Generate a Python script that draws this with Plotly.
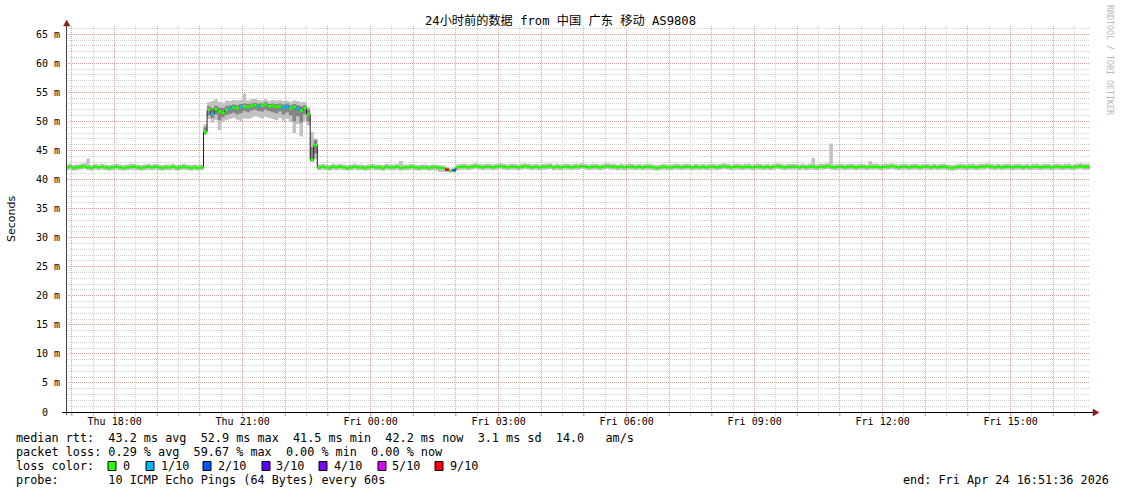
import plotly.graph_objects as go
import pandas as pd

# ---------------- data ----------------
range_start = "2026-04-23 16:51:36"
range_end = "2026-04-24 16:51:36"
first_sample = "2026-04-23 16:50:00"
sample_step = "5min"

# median RTT (ms), one value per 5-minute step, one row per hour
median_rtt = [
    42.1, 42.2, 42.0, 42.1, 42.2, 42.3, 42.1, 42.0, 42.2, 42.1, 42.2, 42.1,
    42.0, 42.1, 42.2, 42.1, 42.0, 42.1, 42.2, 42.2, 42.1, 42.0, 42.1, 42.2,
    42.1, 42.2, 42.1, 42.0, 42.1, 42.1, 42.2, 42.0, 42.1, 42.2, 42.1, 42.0,
    42.1, 42.0, 42.1, 48.2, 52.0, 51.3, 52.1, 51.7, 51.5, 52.0, 52.2, 52.4,
    52.3, 52.5, 52.6, 52.5, 52.7, 52.8, 52.6, 52.7, 52.9, 52.6, 52.7, 52.5,
    52.6, 52.4, 52.6, 52.3, 52.5, 52.2, 51.9, 52.3, 51.2, 43.4, 45.9, 42.1,
    42.2, 42.1, 42.0, 42.2, 42.1, 42.2, 42.1, 42.0, 42.1, 42.2, 42.1, 42.1,
    42.0, 42.1, 42.2, 42.1, 42.1, 42.0, 42.2, 42.1, 42.1, 42.2, 42.0, 42.1,
    42.1, 42.2, 42.1, 42.0, 42.1, 42.1, 42.0, 42.1, 42.1, 42.0, 42.0, 41.7,
    41.5, 41.6, 42.1, 42.2, 42.2, 42.1, 42.2, 42.3, 42.2, 42.1, 42.2, 42.2,
    42.1, 42.2, 42.3, 42.2, 42.1, 42.2, 42.2, 42.1, 42.2, 42.3, 42.2, 42.1,
    42.2, 42.1, 42.2, 42.2, 42.3, 42.1, 42.2, 42.1, 42.2, 42.2, 42.1, 42.2,
    42.2, 42.3, 42.2, 42.1, 42.2, 42.2, 42.1, 42.2, 42.3, 42.2, 42.2, 42.1,
    42.2, 42.1, 42.2, 42.2, 42.1, 42.2, 42.1, 42.2, 42.2, 42.1, 42.0, 42.1,
    42.2, 42.1, 42.1, 42.2, 42.2, 42.1, 42.2, 42.2, 42.1, 42.2, 42.1, 42.2,
    42.1, 42.2, 42.2, 42.1, 42.2, 42.3, 42.2, 42.1, 42.2, 42.2, 42.1, 42.2,
    42.2, 42.1, 42.2, 42.2, 42.1, 42.2, 42.1, 42.2, 42.3, 42.2, 42.1, 42.2,
    42.2, 42.2, 42.1, 42.2, 42.1, 42.2, 42.2, 42.1, 42.2, 42.2, 42.3, 42.2,
    42.1, 42.2, 42.2, 42.1, 42.2, 42.2, 42.1, 42.2, 42.2, 42.1, 42.2, 42.2,
    42.2, 42.1, 42.2, 42.2, 42.3, 42.2, 42.1, 42.2, 42.2, 42.1, 42.2, 42.2,
    42.1, 42.2, 42.2, 42.1, 42.2, 42.1, 42.2, 42.2, 42.1, 42.0, 42.1, 42.2,
    42.2, 42.1, 42.2, 42.2, 42.1, 42.2, 42.2, 42.3, 42.2, 42.1, 42.2, 42.1,
    42.2, 42.2, 42.1, 42.2, 42.2, 42.1, 42.2, 42.1, 42.2, 42.2, 42.1, 42.2,
    42.2, 42.1, 42.2, 42.2, 42.1, 42.2, 42.2, 42.1, 42.2, 42.3, 42.2, 42.2,
    42.2,
]

# lowest ping of each step (outer smoke)
smoke_lo = [
    41.6, 41.7, 41.5, 41.6, 41.7, 41.8, 41.6, 41.5, 41.7, 41.6, 41.7, 41.6,
    41.5, 41.6, 41.7, 41.6, 41.5, 41.6, 41.7, 41.7, 41.6, 41.5, 41.6, 41.7,
    41.6, 41.7, 41.6, 41.5, 41.6, 41.6, 41.7, 41.5, 41.6, 41.7, 41.6, 41.5,
    41.6, 41.5, 41.6, 47.6, 50.4, 49.8, 50.3, 48.5, 49.9, 50.2, 50.4, 50.6,
    50.3, 50.1, 50.5, 50.4, 50.6, 50.9, 50.7, 50.5, 50.8, 50.6, 50.4, 50.2,
    50.6, 50.1, 50.4, 49.9, 48.0, 49.5, 47.4, 50.0, 49.3, 43.0, 43.5, 41.6,
    41.7, 41.6, 41.5, 41.7, 41.6, 41.7, 41.6, 41.5, 41.6, 41.7, 41.6, 41.6,
    41.5, 41.6, 41.7, 41.6, 41.6, 41.5, 41.7, 41.6, 41.6, 41.7, 41.5, 41.6,
    41.6, 41.7, 41.6, 41.5, 41.6, 41.6, 41.5, 41.6, 41.5, 41.3, 41.3, 41.3,
    41.2, 41.3, 41.6, 41.7, 41.7, 41.6, 41.7, 41.8, 41.7, 41.6, 41.7, 41.7,
    41.6, 41.7, 41.8, 41.7, 41.6, 41.7, 41.7, 41.6, 41.7, 41.8, 41.7, 41.6,
    41.7, 41.6, 41.7, 41.7, 41.8, 41.6, 41.7, 41.6, 41.7, 41.7, 41.6, 41.7,
    41.7, 41.8, 41.7, 41.6, 41.7, 41.7, 41.6, 41.7, 41.8, 41.7, 41.7, 41.6,
    41.7, 41.6, 41.7, 41.7, 41.6, 41.7, 41.6, 41.7, 41.7, 41.6, 41.5, 41.6,
    41.7, 41.6, 41.6, 41.7, 41.7, 41.6, 41.7, 41.7, 41.6, 41.7, 41.6, 41.7,
    41.6, 41.7, 41.7, 41.6, 41.7, 41.8, 41.7, 41.6, 41.7, 41.7, 41.6, 41.7,
    41.7, 41.6, 41.7, 41.7, 41.6, 41.7, 41.6, 41.7, 41.8, 41.7, 41.6, 41.7,
    41.7, 41.7, 41.6, 41.7, 41.6, 41.7, 41.7, 41.6, 41.7, 41.7, 41.8, 41.7,
    41.6, 41.7, 41.7, 41.6, 41.7, 41.7, 41.6, 41.7, 41.7, 41.6, 41.7, 41.7,
    41.7, 41.6, 41.7, 41.7, 41.8, 41.7, 41.6, 41.7, 41.7, 41.6, 41.7, 41.7,
    41.6, 41.7, 41.7, 41.6, 41.7, 41.6, 41.7, 41.7, 41.6, 41.5, 41.6, 41.7,
    41.7, 41.6, 41.7, 41.7, 41.6, 41.7, 41.7, 41.8, 41.7, 41.6, 41.7, 41.6,
    41.7, 41.7, 41.6, 41.7, 41.7, 41.6, 41.7, 41.6, 41.7, 41.7, 41.6, 41.7,
    41.7, 41.6, 41.7, 41.7, 41.6, 41.7, 41.7, 41.6, 41.7, 41.8, 41.7, 41.7,
    41.7,
]

# highest ping of each step (outer smoke)
smoke_hi = [
    42.6, 42.7, 42.5, 42.6, 42.7, 42.8, 43.6, 42.5, 42.7, 42.6, 42.7, 42.6,
    42.5, 42.6, 42.7, 42.6, 42.5, 42.6, 42.7, 42.7, 42.6, 42.5, 42.6, 42.7,
    42.6, 42.7, 42.6, 42.5, 42.6, 42.6, 42.7, 42.5, 42.6, 42.7, 42.6, 42.5,
    42.6, 42.5, 42.6, 49.5, 53.3, 53.5, 53.8, 53.4, 53.2, 53.6, 53.5, 53.7,
    53.6, 53.7, 54.8, 53.6, 53.8, 53.9, 53.7, 53.6, 53.8, 53.5, 53.7, 53.6,
    53.7, 53.5, 53.6, 53.4, 53.6, 53.5, 53.3, 53.4, 52.5, 48.2, 47.0, 42.6,
    42.7, 42.6, 42.5, 42.7, 42.6, 42.7, 42.6, 42.5, 42.6, 42.7, 42.6, 42.6,
    42.5, 42.6, 42.7, 42.6, 42.6, 42.5, 42.7, 42.6, 42.6, 42.7, 43.2, 42.6,
    42.6, 42.7, 42.6, 42.5, 42.6, 42.6, 42.5, 42.6, 42.6, 42.5, 42.4, 42.2,
    41.9, 42.0, 42.6, 42.7, 42.7, 42.6, 42.7, 42.8, 42.7, 42.6, 42.7, 42.7,
    42.6, 42.7, 42.8, 42.7, 42.6, 42.7, 42.7, 42.6, 42.7, 42.8, 42.7, 42.6,
    42.7, 42.6, 42.7, 42.7, 42.8, 42.6, 42.7, 42.6, 42.7, 42.7, 42.6, 42.7,
    42.7, 42.8, 42.7, 42.6, 42.7, 42.7, 42.6, 42.7, 42.8, 42.7, 42.7, 42.6,
    42.7, 42.6, 42.7, 42.7, 42.6, 42.7, 42.6, 42.7, 42.7, 42.6, 42.5, 42.6,
    42.7, 42.6, 42.6, 42.7, 42.7, 42.6, 42.7, 42.7, 42.6, 42.7, 42.6, 42.7,
    42.6, 42.7, 42.7, 42.6, 42.7, 42.8, 42.7, 42.6, 42.7, 42.7, 42.6, 42.7,
    42.7, 42.6, 42.7, 42.7, 42.6, 42.7, 42.6, 42.7, 42.8, 42.7, 42.6, 42.7,
    42.7, 42.7, 42.6, 42.7, 42.6, 42.7, 43.7, 42.6, 42.7, 42.7, 42.8, 46.2,
    42.6, 42.7, 42.7, 42.6, 42.7, 42.7, 42.6, 42.7, 42.7, 42.6, 43.2, 42.7,
    42.7, 42.6, 42.7, 42.7, 42.8, 42.7, 42.6, 42.7, 42.7, 42.6, 42.7, 42.7,
    42.6, 42.7, 42.7, 42.6, 42.7, 42.6, 42.7, 42.7, 42.6, 42.5, 42.6, 42.7,
    42.7, 42.6, 42.7, 42.7, 42.6, 42.7, 42.7, 42.8, 42.7, 42.6, 42.7, 42.6,
    42.7, 42.7, 42.6, 42.7, 42.7, 42.6, 42.7, 42.6, 42.7, 42.7, 42.6, 42.7,
    42.7, 42.6, 42.7, 42.7, 42.6, 42.7, 42.7, 42.6, 42.7, 42.8, 42.7, 42.7,
    42.7,
]

# denser inner smoke during the congested period (starts at sample 38)
core_first_index = 38
core_lo = [
    41.9, 47.9, 51.0, 50.6, 51.2, 50.2, 50.7, 51.1, 51.3, 51.5,
    51.2, 51.4, 51.8, 51.6, 51.9, 52.0, 51.8, 51.7, 52.0, 51.8, 51.6, 51.4,
    51.7, 51.2, 51.6, 51.0, 50.0, 50.9, 49.8, 51.2, 50.0, 43.2, 44.5, 41.9,
]
core_hi = [
    42.3, 49.0, 52.6, 52.3, 52.7, 52.4, 52.3, 52.6, 52.8, 52.9,
    52.8, 53.0, 53.1, 53.0, 53.1, 53.2, 53.1, 53.1, 53.3, 53.0, 53.1, 53.0,
    53.1, 52.9, 53.1, 52.8, 53.0, 52.8, 52.6, 52.8, 52.0, 45.5, 46.8, 42.3,
]

# steps with packet loss (sample index, lost pings out of 10)
loss_index = [41, 46, 49, 54, 61, 62, 65, 107, 109]
loss_level = [1, 1, 1, 1, 1, 1, 1, 9, 2]

loss_levels = [0, 1, 2, 3, 4, 5, 9]
loss_labels = ["0", "1/10", "2/10", "3/10", "4/10", "5/10", "9/10"]
loss_colors = ["#26ff00", "#00b8ff", "#0059ff", "#5e00ff", "#7e00ff", "#dd00ff", "#ff0000"]

y_ticks = [0, 5, 10, 15, 20, 25, 30, 35, 40, 45, 50, 55, 60, 65]

title_text = "24小时前的数据 from 中国 广东 移动 AS9808"
legend_rows = [
    "median rtt:  43.2 ms avg  52.9 ms max  41.5 ms min  42.2 ms now  3.1 ms sd  14.0   am/s",
    "packet loss: 0.29 % avg  59.67 % max  0.00 % min  0.00 % now",
    "loss color:",
    "probe:       10 ICMP Echo Pings (64 Bytes) every 60s",
]
end_text = "end: Fri Apr 24 16:51:36 2026"

# ---------------- layout geometry ----------------
FIG_W, FIG_H = 1121, 494
L, R, T, B = 66, 31, 26, 82
PW, PH = FIG_W - L - R, FIG_H - T - B


def px(x):
    return (x - L) / PW


def py(y):
    return (FIG_H - B - y) / PH


MONO = "DejaVu Sans Mono, Noto Sans CJK SC, monospace"
NB = "\u00a0"

n = len(median_rtt)
edges = list(pd.date_range(first_sample, periods=n + 1, freq=sample_step))


def hold(vals):
    return list(vals) + [vals[-1]]


fig = go.Figure()

# outer smoke (min..max)
fig.add_trace(go.Scatter(x=edges, y=hold(smoke_lo), mode="lines", line=dict(width=0, shape="hv"),
                         hoverinfo="skip", showlegend=False))
fig.add_trace(go.Scatter(x=edges, y=hold(smoke_hi), mode="lines", line=dict(width=0, shape="hv"),
                         fill="tonexty", fillcolor="#c2c2c2", hoverinfo="skip", showlegend=False))

# inner smoke
core_x = edges[core_first_index:core_first_index + len(core_lo) + 1]
fig.add_trace(go.Scatter(x=core_x, y=hold(core_lo), mode="lines", line=dict(width=0, shape="hv"),
                         hoverinfo="skip", showlegend=False))
fig.add_trace(go.Scatter(x=core_x, y=hold(core_hi), mode="lines", line=dict(width=0, shape="hv"),
                         fill="tonexty", fillcolor="#858585", hoverinfo="skip", showlegend=False))

# thin dark median line
fig.add_trace(go.Scatter(x=edges, y=hold(median_rtt), mode="lines",
                         line=dict(width=1, color="#202020", shape="hv"),
                         hoverinfo="skip", showlegend=False))

# median coloured by loss
level_of = [0] * n
for i, lv in zip(loss_index, loss_level):
    level_of[i] = lv
for lv, col in zip(loss_levels, loss_colors):
    xs, ys = [], []
    for i in range(n):
        if level_of[i] == lv:
            xs += [edges[i], edges[i + 1], None]
            ys += [median_rtt[i], median_rtt[i], None]
    if xs:
        fig.add_trace(go.Scatter(x=xs, y=ys, mode="lines", line=dict(width=2.6, color=col),
                                 hoverinfo="skip", showlegend=False))

# x ticks: grid every hour, labels every 3 hours
hours = list(pd.date_range("2026-04-23 17:00", "2026-04-24 16:00", freq="1h"))
hour_text = [h.strftime("%a %H:%M") if h.hour % 3 == 0 else "" for h in hours]

fig.update_xaxes(
    range=[range_start, range_end],
    tickmode="array", tickvals=hours, ticktext=hour_text,
    showgrid=True, gridcolor="rgba(240,120,120,0.55)", griddash="1px,1px", gridwidth=1,
    ticks="", ticklabelstandoff=2,
    tickfont=dict(family=MONO, size=10, color="#000"),
    minor=dict(tickmode="linear", tick0="2026-04-23 16:30", dtick=1800000,
               showgrid=True, gridcolor="#d0d0d0", griddash="1px,1px",
               ticks="outside", ticklen=3, tickcolor="#d0d0d0"),
    showline=False, zeroline=False, fixedrange=True,
)
fig.update_yaxes(
    range=[0, 66.42],
    tickmode="array", tickvals=y_ticks,
    ticktext=[("0" + NB + NB) if v == 0 else f"{v}{NB}m" for v in y_ticks],
    showgrid=True, gridcolor="rgba(240,120,120,0.55)", griddash="1px,1px", gridwidth=1,
    ticks="", ticklabelstandoff=5,
    tickfont=dict(family=MONO, size=10, color="#000"),
    minor=dict(tickmode="linear", tick0=0, dtick=1, showgrid=True,
               gridcolor="#d0d0d0", griddash="1px,1px"),
    showline=False, zeroline=False, fixedrange=True,
)

shapes = [
    # y axis line + arrow
    dict(type="line", xref="paper", yref="paper", x0=px(66.5), x1=px(66.5), y0=py(415), y1=py(24),
         line=dict(color="#404040", width=1)),
    dict(type="path", xref="paper", yref="paper",
         path=f"M {px(63.5)} {py(26)} L {px(70)} {py(26)} L {px(66.7)} {py(20)} Z",
         fillcolor="#8b1c1c", line=dict(color="#8b1c1c", width=0.5)),
    # x axis line + arrow
    dict(type="line", xref="paper", yref="paper", x0=px(62), x1=px(1094), y0=py(412.5), y1=py(412.5),
         line=dict(color="#000000", width=1)),
    dict(type="path", xref="paper", yref="paper",
         path=f"M {px(1093)} {py(409)} L {px(1093)} {py(416)} L {px(1099)} {py(412.5)} Z",
         fillcolor="#8b1c1c", line=dict(color="#8b1c1c", width=0.5)),
]

# hour ticks below the x axis (red, like the major grid)
for h in hours:
    shapes.append(dict(type="line", xref="x", yref="paper", x0=h, x1=h, y0=py(413), y1=py(416),
                       line=dict(color="rgba(240,120,120,0.7)", width=1)))

# loss colour squares
square_left = [108, 146, 203, 262, 319, 378, 435]
label_left = [121, 159, 216, 274, 332, 390, 448]
for sx, col in zip(square_left, loss_colors):
    shapes.append(dict(type="rect", xref="paper", yref="paper",
                       x0=px(sx), x1=px(sx + 8), y0=py(470.5), y1=py(461.5),
                       fillcolor=col, line=dict(color="#000", width=1)))

annotations = []
row_y = [438, 452, 466, 480]
for txt, yy in zip(legend_rows, row_y):
    annotations.append(dict(text=txt.replace(" ", NB), xref="paper", yref="paper",
                            x=px(14), y=py(yy), xanchor="left", yanchor="middle", showarrow=False,
                            font=dict(family=MONO, size=11.8, color="#000")))
for lx, lab in zip(label_left, loss_labels):
    annotations.append(dict(text=lab, xref="paper", yref="paper", x=px(lx), y=py(466),
                            xanchor="left", yanchor="middle", showarrow=False,
                            font=dict(family=MONO, size=11.8, color="#000")))
annotations.append(dict(text=end_text.replace(" ", NB), xref="paper", yref="paper",
                        x=px(1111), y=py(480), xanchor="right", yanchor="middle", showarrow=False,
                        font=dict(family=MONO, size=11.8, color="#000")))
annotations.append(dict(text="Seconds", xref="paper", yref="paper", x=px(11), y=py(219),
                        xanchor="center", yanchor="middle", textangle=-90, showarrow=False,
                        font=dict(family="DejaVu Sans, sans-serif", size=11, color="#000")))
annotations.append(dict(text="RRDTOOL / TOBI OETIKER", xref="paper", yref="paper",
                        x=px(1110), y=py(60), xanchor="center", yanchor="middle", textangle=90,
                        showarrow=False, font=dict(family=MONO, size=8.3, color="#b8b8b8")))

fig.update_layout(
    width=FIG_W, height=FIG_H,
    margin=dict(l=L, r=R, t=T, b=B, pad=0),
    paper_bgcolor="#ffffff", plot_bgcolor="#ffffff",
    showlegend=False,
    title=dict(text=title_text, x=0.5, xanchor="center", y=1 - 21 / FIG_H, yanchor="middle",
               font=dict(family=MONO, size=12.2, color="#000")),
    shapes=shapes, annotations=annotations,
)

fig.write_html("out.html", config={"displayModeBar": False},
               post_script="document.body.style.margin='0px';document.body.style.overflow='hidden';")
